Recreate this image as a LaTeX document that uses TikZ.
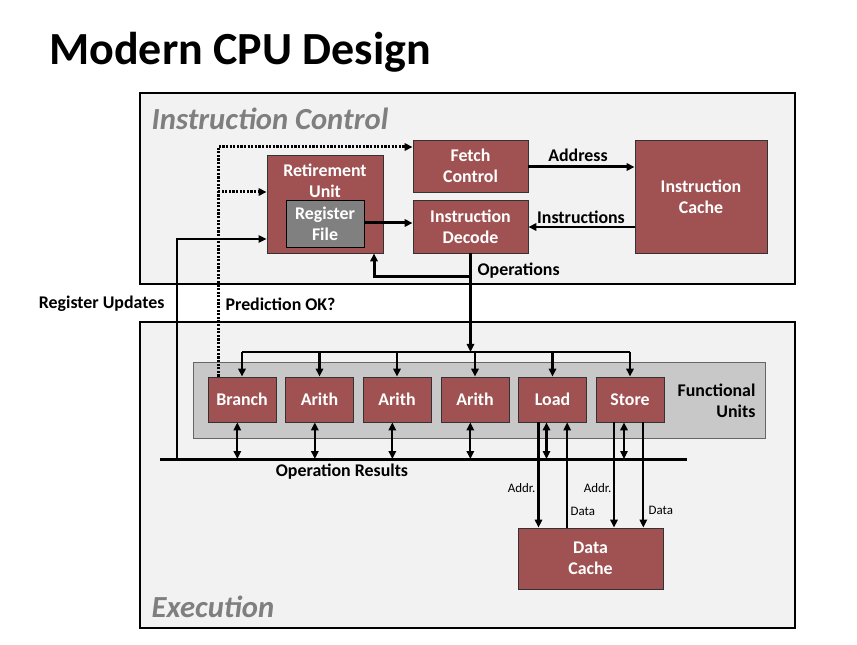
\documentclass[tikz,border=0pt]{standalone}
\usepackage{fontspec}
\setmainfont{Carlito}
\usetikzlibrary{arrows.meta}
\definecolor{unitred}{RGB}{160,82,82}
\definecolor{areagray}{RGB}{242,242,242}
\definecolor{fugray}{RGB}{200,200,200}
\definecolor{labelgray}{RGB}{127,127,127}
\tikzset{
    boxtext/.style={text=white, align=center, inner sep=0pt, font=\bfseries\fontsize{13.4}{15.5}\selectfont},
    unitbox/.style={boxtext, draw=black!80, line width=0.6pt, fill=unitred},
    fuwidth/.style={minimum width=51pt, minimum height=33.75pt},
    areabox/.style={draw=black, line width=1.5pt, fill=areagray},
    arealabel/.style={anchor=west, text=labelgray, font=\bfseries\itshape\fontsize{23}{27}\selectfont},
    boldlabel/.style={font=\bfseries\fontsize{13.4}{15.5}\selectfont, align=center, inner sep=1pt},
    smalllabel/.style={font=\fontsize{9.7}{11}\selectfont, inner sep=1pt},
    thickline/.style={line width=2.25pt},
    midline/.style={line width=1.6pt},
    thinline/.style={line width=1.1pt},
    predline/.style={line width=2.25pt, dash pattern=on 1.6pt off 1.1pt},
}
\begin{document}
\begin{tikzpicture}[x=0.75pt, y=-0.75pt, >={Triangle[length=6pt,width=5.5pt]}]
    \useasboundingbox (0,0) rectangle (857,645);
    % Title
    \node [anchor=base west, inner sep=0pt, font=\bfseries\fontsize{34.5}{40}\selectfont] (title) at (49,65) {Modern CPU Design};
    % Draw areas
    \draw [areabox] (140,93) rectangle (795,284); % instruction control
    \draw [areabox] (140,322) rectangle (795,628); % execution
    \node [arealabel] (iclabel) at (147,119) {Instruction Control};
    \node [arealabel] (exlabel) at (147,607) {Execution};
    \draw [draw=black!60, line width=0.6pt, fill=fugray] (193,362) rectangle (765,438); % functional units

    % Instruction control blocks
    \node [unitbox, minimum width=86.25pt, minimum height=39pt] (fetch) at (470.5,166) {Fetch\\Control};
    \node [unitbox, minimum width=87pt, minimum height=73.5pt] (retire) at (325,204) {};
    \node [boxtext, anchor=north] (retiretxt) at ([yshift=-7pt]retire.north) {Retirement\\Unit};
    \node [unitbox, fill=gray, draw=black, minimum width=58.5pt, minimum height=35.25pt] (regfile) at (325,223.5) {Register\\File};
    \node [unitbox, minimum width=86.25pt, minimum height=39.75pt] (decode) at (470.5,226.5) {Instruction\\Decode};
    \node [unitbox, minimum width=99pt, minimum height=84.75pt] (icache) at (701,196.5) {Instruction\\Cache};

    % Functional units
    \foreach \x/\name/\txt in {242/branch/Branch, 319.5/aritha/Arith, 397/arithb/Arith,
                               475/arithc/Arith, 552.5/load/Load, 630/store/Store}
        \node [unitbox, fuwidth] (\name) at (\x,399.5) {\txt};
    \node [boldlabel, anchor=east, align=right] (fulabel) at (757,401) {Functional\\Units};
    \node [unitbox, minimum width=108.75pt, minimum height=45.75pt] (dcache) at (590.5,558.5) {Data\\Cache};

    % Buses
    \coordinate (opbus) at (0,352);
    \coordinate (opsplit) at (0,277);
    \coordinate (resleft) at (160,459);
    \coordinate (resright) at (687,459);
    \draw [thickline] (resleft) -- (resright);
    \node [boldlabel] (reslabel) at (342,472) {Operation Results};

    % Fetch, decode and retirement
    \draw [thickline, ->] (fetch.east |- 0,167) -- (icache.west |- 0,167);
    \node [boldlabel] (addrlabel) at (578,155) {Address};
    \draw [midline, ->] (icache.west |- 0,227) -- (decode.east |- 0,227);
    \node [boldlabel] (instrlabel) at (581,217) {Instructions};
    \draw [thickline, ->] (regfile.east |- 0,223) -- (decode.west |- 0,223);
    \draw [thickline, ->] (decode.south) -- (decode.south |- opbus);
    \draw [thickline, ->] (decode.south |- opsplit) -| ([xshift=36.75pt]retire.south);
    \node [boldlabel, anchor=west] (oplabel) at (476,271) {Operations};

    % Operations to units
    \draw [midline] (branch.north |- opbus) -- (store.north |- opbus);
    \foreach \u in {branch,aritha,arithb,arithc,load,store}
        \draw [midline, ->] (\u.north |- opbus) -- (\u.north);

    % Results back to bus
    \foreach \u in {branch,aritha,arithb,arithc}
        \draw [midline, <->] ([xshift=-3.5pt]\u.south) -- ([xshift=-3.5pt]\u.south |- resleft);
    \draw [midline, <->] ([xshift=-4.5pt]load.south) -- ([xshift=-4.5pt]load.south |- resleft);
    \draw [midline, <->] ([xshift=-4.5pt]store.south) -- ([xshift=-4.5pt]store.south |- resleft);

    % Load and store to data cache
    \draw [midline, ->] ([xshift=-10.5pt]load.south) -- ([xshift=-10.5pt]load.south |- dcache.north);
    \draw [midline, ->] ([xshift=11pt]load.south |- dcache.north) -- ([xshift=11pt]load.south);
    \draw [midline, ->] ([xshift=-12pt]store.south) -- ([xshift=-12pt]store.south |- dcache.north);
    \draw [midline, ->] ([xshift=10pt]store.south) -- ([xshift=10pt]store.south |- dcache.north);
    \node [smalllabel, anchor=east] (laddr) at (537,488) {Addr.};
    \node [smalllabel, anchor=west] (ldata) at (569,511) {Data};
    \node [smalllabel, anchor=east] (saddr) at (613,488) {Addr.};
    \node [smalllabel, anchor=west] (sdata) at (647,510) {Data};

    % Register updates and prediction
    \draw [thinline, ->] (177,459) |- ([yshift=-26.25pt]retire.west);
    \node [boldlabel, anchor=east] (reglabel) at (166,304) {Register Updates};
    \draw [predline, ->] ([xshift=-18pt]branch.north) |- ([yshift=14.25pt]fetch.west);
    \draw [predline, ->] (218,192) -- ([yshift=9pt]retire.west);
    \node [boldlabel, anchor=west] (predlabel) at (224,304) {Prediction OK?};
\end{tikzpicture}
\end{document}
